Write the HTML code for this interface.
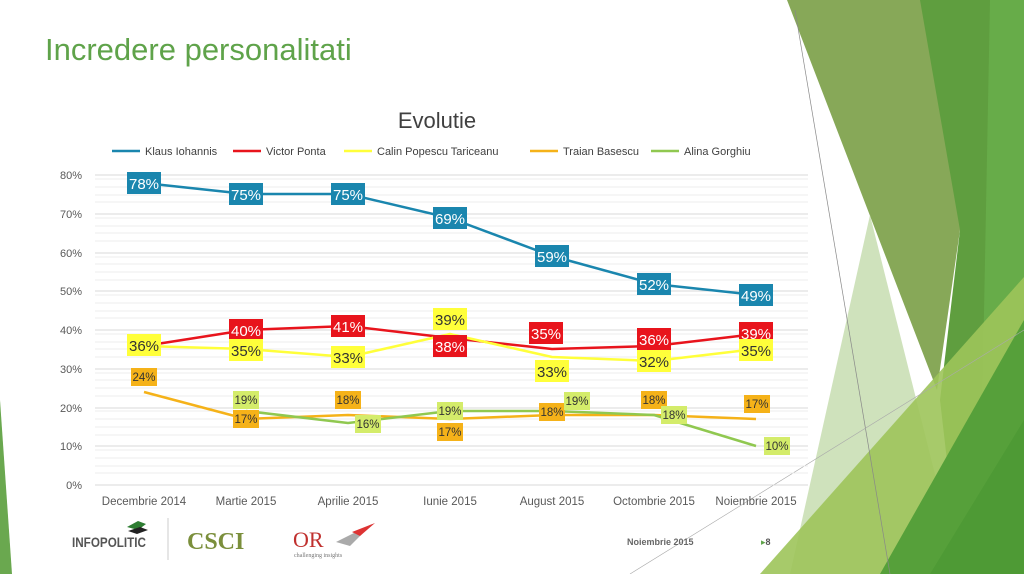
<!DOCTYPE html>
<html><head><meta charset="utf-8"><style>
html,body{margin:0;padding:0;background:#fff;}
svg{display:block;font-family:"Liberation Sans","DejaVu Sans",sans-serif;}
</style></head><body>
<svg width="1024" height="574" viewBox="0 0 1024 574" xmlns="http://www.w3.org/2000/svg">
<rect width="1024" height="574" fill="#fff"/>
<!-- decoration -->
<polygon points="0,400 12,574 0,574" fill="#6aa84f"/>
<polygon points="787,0 930,0 1000,0 960,230 937,390" fill="#87a858"/>
<polygon points="920,0 990,0 1024,0 1024,574 960,574 940,400 960,230" fill="#5f9e3f"/>
<polygon points="990,0 1024,0 1024,300 980,520" fill="#68ad4a" opacity="0.9"/>
<polygon points="870,215 960,574 790,574" fill="#c7ddb0" opacity="0.85"/>
<polygon points="760,574 1024,277 1024,574" fill="#9dc45a" opacity="0.9"/>
<polygon points="880,574 1024,320 1024,574" fill="#56a03a"/>
<polygon points="930,574 1024,420 1024,574" fill="#4e9a35"/>
<line x1="795" y1="10" x2="890" y2="574" stroke="#888" stroke-width="0.7"/>
<line x1="630" y1="574" x2="1024" y2="330" stroke="#aaa" stroke-width="0.6"/>
<text x="45" y="60" font-size="31" fill="#5fa34a">Incredere personalitati</text>
<text x="437" y="128" font-size="22" fill="#404040" text-anchor="middle">Evolutie</text>
<!-- legend -->
<g font-size="11" fill="#404040">
<line x1="112" y1="151" x2="140" y2="151" stroke="#1a86ae" stroke-width="2.5"/><text x="145" y="155">Klaus Iohannis</text>
<line x1="233" y1="151" x2="261" y2="151" stroke="#e8141c" stroke-width="2.5"/><text x="266" y="155">Victor Ponta</text>
<line x1="344" y1="151" x2="372" y2="151" stroke="#ffff3a" stroke-width="2.5"/><text x="377" y="155">Calin Popescu Tariceanu</text>
<line x1="530" y1="151" x2="558" y2="151" stroke="#f5b219" stroke-width="2.5"/><text x="563" y="155">Traian Basescu</text>
<line x1="651" y1="151" x2="679" y2="151" stroke="#90c850" stroke-width="2.5"/><text x="684" y="155">Alina Gorghiu</text>
</g>
<!-- grid -->
<g stroke="#ececec" stroke-width="1">
<line x1="95" y1="179" x2="808" y2="179"/><line x1="95" y1="187" x2="808" y2="187"/><line x1="95" y1="195" x2="808" y2="195"/><line x1="95" y1="202" x2="808" y2="202"/>
<line x1="95" y1="218" x2="808" y2="218"/><line x1="95" y1="226" x2="808" y2="226"/><line x1="95" y1="233" x2="808" y2="233"/><line x1="95" y1="241" x2="808" y2="241"/>
<line x1="95" y1="257" x2="808" y2="257"/><line x1="95" y1="264" x2="808" y2="264"/><line x1="95" y1="272" x2="808" y2="272"/><line x1="95" y1="280" x2="808" y2="280"/>
<line x1="95" y1="295" x2="808" y2="295"/><line x1="95" y1="303" x2="808" y2="303"/><line x1="95" y1="311" x2="808" y2="311"/><line x1="95" y1="318" x2="808" y2="318"/>
<line x1="95" y1="334" x2="808" y2="334"/><line x1="95" y1="342" x2="808" y2="342"/><line x1="95" y1="349" x2="808" y2="349"/><line x1="95" y1="357" x2="808" y2="357"/>
<line x1="95" y1="373" x2="808" y2="373"/><line x1="95" y1="380" x2="808" y2="380"/><line x1="95" y1="388" x2="808" y2="388"/><line x1="95" y1="396" x2="808" y2="396"/>
<line x1="95" y1="411" x2="808" y2="411"/><line x1="95" y1="419" x2="808" y2="419"/><line x1="95" y1="427" x2="808" y2="427"/><line x1="95" y1="435" x2="808" y2="435"/>
<line x1="95" y1="450" x2="808" y2="450"/><line x1="95" y1="458" x2="808" y2="458"/><line x1="95" y1="466" x2="808" y2="466"/><line x1="95" y1="473" x2="808" y2="473"/>
</g>
<g stroke="#d9d9d9" stroke-width="1">
<line x1="95" y1="175" x2="808" y2="175"/><line x1="95" y1="214" x2="808" y2="214"/><line x1="95" y1="253" x2="808" y2="253"/><line x1="95" y1="291" x2="808" y2="291"/><line x1="95" y1="330" x2="808" y2="330"/><line x1="95" y1="369" x2="808" y2="369"/><line x1="95" y1="408" x2="808" y2="408"/><line x1="95" y1="446" x2="808" y2="446"/><line x1="95" y1="485" x2="808" y2="485"/>
</g>
<g font-size="11" fill="#595959" text-anchor="end">
<text x="82" y="179">80%</text><text x="82" y="218">70%</text><text x="82" y="257">60%</text><text x="82" y="295">50%</text><text x="82" y="334">40%</text><text x="82" y="373">30%</text><text x="82" y="412">20%</text><text x="82" y="450">10%</text><text x="82" y="489">0%</text>
</g>
<g font-size="11.5" fill="#595959" text-anchor="middle">
<text x="144" y="505">Decembrie 2014</text><text x="246" y="505">Martie 2015</text><text x="348" y="505">Aprilie 2015</text><text x="450" y="505">Iunie 2015</text><text x="552" y="505">August 2015</text><text x="654" y="505">Octombrie 2015</text><text x="756" y="505">Noiembrie 2015</text>
</g>
<!-- series -->
<g fill="none" stroke-width="2.5" stroke-linejoin="round">
<polyline stroke="#f5b219" points="144,392 246,419 348,415 450,419 552,415 654,415 756,419"/>
<polyline stroke="#90c850" points="246,411 348,423 450,411 552,411 654,415 756,446"/>
<polyline stroke="#e8141c" points="144,346 246,330 348,326 450,338 552,349 654,346 756,334"/>
<polyline stroke="#ffff3a" points="144,346 246,349 348,357 450,334 552,357 654,361 756,349"/>
<polyline stroke="#1a86ae" points="144,183 246,194 348,194 450,218 552,256 654,284 756,295"/>
</g>
<!-- labels -->
<g font-size="15" text-anchor="middle">
<g fill="#1a86ae"><rect x="127" y="172" width="34" height="22"/><rect x="229" y="183" width="34" height="22"/><rect x="331" y="183" width="34" height="22"/><rect x="433" y="207" width="34" height="22"/><rect x="535" y="245" width="34" height="22"/><rect x="637" y="273" width="34" height="22"/><rect x="739" y="284" width="34" height="22"/></g>
<g fill="#fff"><text x="144" y="189">78%</text><text x="246" y="200">75%</text><text x="348" y="200">75%</text><text x="450" y="224">69%</text><text x="552" y="262">59%</text><text x="654" y="290">52%</text><text x="756" y="301">49%</text></g>
<g fill="#e8141c"><rect x="229" y="319" width="34" height="22"/><rect x="331" y="315" width="34" height="22"/><rect x="433" y="335" width="34" height="22"/><rect x="529" y="322" width="34" height="22"/><rect x="637" y="328" width="34" height="22"/><rect x="739" y="322" width="34" height="22"/></g>
<g fill="#fff"><text x="246" y="336">40%</text><text x="348" y="332">41%</text><text x="450" y="352">38%</text><text x="546" y="339">35%</text><text x="654" y="345">36%</text><text x="756" y="339">39%</text></g>
<g fill="#ffff3a"><rect x="127" y="334" width="34" height="22"/><rect x="229" y="339" width="34" height="22"/><rect x="331" y="346" width="34" height="22"/><rect x="433" y="308" width="34" height="22"/><rect x="535" y="360" width="34" height="22"/><rect x="637" y="350" width="34" height="22"/><rect x="739" y="339" width="34" height="22"/></g>
<g fill="#333"><text x="144" y="351">36%</text><text x="246" y="356">35%</text><text x="348" y="363">33%</text><text x="450" y="325">39%</text><text x="552" y="377">33%</text><text x="654" y="367">32%</text><text x="756" y="356">35%</text></g>
</g>
<g font-size="11.5" text-anchor="middle">
<g fill="#f5b219"><rect x="131" y="368" width="26" height="18"/><rect x="233" y="410" width="26" height="18"/><rect x="335" y="391" width="26" height="18"/><rect x="437" y="423" width="26" height="18"/><rect x="539" y="403" width="26" height="18"/><rect x="641" y="391" width="26" height="18"/><rect x="744" y="395" width="26" height="18"/></g>
<g fill="#333"><text x="144" y="381">24%</text><text x="246" y="423">17%</text><text x="348" y="404">18%</text><text x="450" y="436">17%</text><text x="552" y="416">18%</text><text x="654" y="404">18%</text><text x="757" y="408">17%</text></g>
<g fill="#d4ec6a"><rect x="233" y="391" width="26" height="18"/><rect x="355" y="415" width="26" height="18"/><rect x="437" y="402" width="26" height="18"/><rect x="564" y="392" width="26" height="18"/><rect x="661" y="406" width="26" height="18"/><rect x="764" y="437" width="26" height="18"/></g>
<g fill="#333"><text x="246" y="404">19%</text><text x="368" y="428">16%</text><text x="450" y="415">19%</text><text x="577" y="405">19%</text><text x="674" y="419">18%</text><text x="777" y="450">10%</text></g>
</g>
<!-- footer -->
<g>
<polygon points="127,527 138,521 146,524 138,530" fill="#2e7d32"/>
<polygon points="128,531 140,527 148,530 137,534" fill="#222"/>
<text x="72" y="547" font-size="14" font-weight="bold" fill="#555" textLength="74" lengthAdjust="spacingAndGlyphs">INFOPOLITIC</text>
<line x1="168" y1="518" x2="168" y2="560" stroke="#ccc"/>
<text x="187" y="549" font-size="24" font-weight="bold" fill="#7b8f3c" font-family="Liberation Serif,serif">CSCI</text>
<text x="293" y="547" font-size="22" fill="#c0302e" font-family="Liberation Serif,serif">OR</text>
<polygon points="336,542 372,524 350,546" fill="#aaa"/>
<polygon points="352,532 375,523 360,536" fill="#d33"/>
<text x="294" y="557" font-size="6" fill="#777" font-family="Liberation Serif,serif">challenging insights</text>
<text x="627" y="545" font-size="9" font-weight="bold" fill="#666">Noiembrie 2015</text>
<text x="761" y="545" font-size="9" font-weight="bold" fill="#555"><tspan fill="#5fa34a">▸</tspan>8</text>
</g>
</svg>
</body></html>
